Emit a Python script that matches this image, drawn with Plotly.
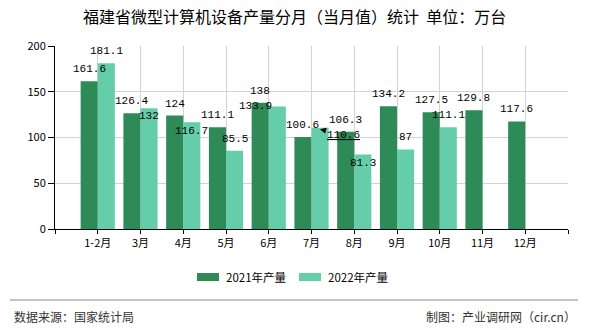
import plotly.graph_objects as go

# ---------------- data ----------------
categories = ['1-2月', '3月', '4月', '5月', '6月', '7月', '8月', '9月', '10月', '11月', '12月']
values_2021 = [161.6, 126.4, 124, 111.1, 138, 100.6, 106.3, 134.2, 127.5, 129.8, 117.6]
values_2022 = [181.1, 132, 116.7, 85.5, 133.9, 110.6, 81.3, 87, 111.1, None, None]
series_names = ['2021年产量', '2022年产量']
y_ticks = [0, 50, 100, 150, 200]

title_text = '福建省微型计算机设备产量分月（当月值）统计  单位：万台'
source_text = '数据来源：国家统计局'
credit_text = '制图：产业调研网（cir.cn）'

# ---------------- style ----------------
W, H = 590, 330
L, R, T, B = 55, 22, 46, 101
PW, PH = W - L - R, H - T - B
COLORS = ['#2E8B57', '#66CDAA']
CJK = 'Noto Sans CJK SC, sans-serif'
MONO = 'Liberation Mono, DejaVu Sans Mono, monospace'


def px(x):
    return (x - L) / PW


def py(y):
    return (H - B - y) / PH


xs = list(range(len(categories)))

fig = go.Figure()
for name, vals, col in zip(series_names, [values_2021, values_2022], COLORS):
    fig.add_trace(go.Bar(x=xs, y=vals, name=name, marker=dict(color=col, line=dict(width=0)),
                         showlegend=False, hoverinfo='skip'))

annotations = []
# data labels (default 12 px above bar top); special label offsets for overlapping ones
special = {
    (1, 1): dict(yshift=-8),
    (1, 2): dict(yshift=-9),
    (1, 4): dict(yshift=0, xshift=-22),
    (1, 6): dict(yshift=-8),
}
for si, vals in enumerate([values_2021, values_2022]):
    off = -0.2 if si == 0 else 0.2
    for i, v in enumerate(vals):
        if v is None:
            continue
        label = ('%g' % v)
        if (si, i) == (1, 5):
            annotations.append(dict(
                x=i + off, y=v - 1.5, xref='x', yref='y', text='<u>' + label + '</u>',
                showarrow=True, arrowhead=2, arrowsize=1, arrowwidth=1.2, arrowcolor='#000',
                ax=23, ay=6, font=dict(family=MONO, size=11, color='#000')))
            continue
        s = special.get((si, i), {})
        annotations.append(dict(
            x=i + off, y=v, xref='x', yref='y', text=label, showarrow=False,
            yanchor='middle', xanchor='center', yshift=s.get('yshift', 12), xshift=s.get('xshift', 0),
            font=dict(family=MONO, size=11, color='#000')))

# title
annotations.append(dict(x=px(294), y=py(16.5), xref='paper', yref='paper', text=title_text,
                        showarrow=False, xanchor='center', yanchor='middle',
                        font=dict(family=CJK, size=16, color='#000')))
# custom legend
shapes = []
leg = [(197, 224), (299, 326)]
for (rx, tx), name, col in zip(leg, series_names, COLORS):
    shapes.append(dict(type='rect', xref='paper', yref='paper', x0=px(rx), x1=px(rx + 22),
                       y0=py(273), y1=py(281), fillcolor=col, line=dict(width=0)))
    annotations.append(dict(x=px(tx), y=py(277), xref='paper', yref='paper', text=name,
                            showarrow=False, xanchor='left', yanchor='middle',
                            font=dict(family=CJK, size=11.5, color='#000')))
# footer
shapes.append(dict(type='line', xref='paper', yref='paper', x0=px(10), x1=px(578),
                   y0=py(300), y1=py(300), line=dict(color='#888888', width=1.2)))
annotations.append(dict(x=px(12), y=py(316), xref='paper', yref='paper', text=source_text,
                        showarrow=False, xanchor='left', yanchor='middle',
                        font=dict(family=CJK, size=12, color='#333')))
annotations.append(dict(x=px(578), y=py(316), xref='paper', yref='paper', text=credit_text,
                        showarrow=False, xanchor='right', yanchor='middle',
                        font=dict(family=CJK, size=12, color='#333')))

fig.update_layout(
    width=W, height=H, margin=dict(l=L, r=R, t=T, b=B, autoexpand=False),
    paper_bgcolor='white', plot_bgcolor='white',
    barmode='group', bargap=0.2, bargroupgap=0,
    showlegend=False, annotations=annotations, shapes=shapes,
    xaxis=dict(range=[-1, len(categories)], tickmode='array',
               tickvals=[-1] + xs + [len(categories)], ticktext=[''] + categories + [''],
               showgrid=True, gridcolor='#d3d3d3', gridwidth=1,
               showline=True, linecolor='#000', linewidth=1, zeroline=False,
               ticks='outside', ticklen=4, tickcolor='#000',
               tickfont=dict(family=CJK, size=11, color='#000')),
    yaxis=dict(range=[0, 200], tickmode='array', tickvals=y_ticks,
               showgrid=True, gridcolor='#d3d3d3', gridwidth=1,
               showline=True, linecolor='#000', linewidth=1, zeroline=False,
               ticks='outside', ticklen=6, tickcolor='#000',
               tickfont=dict(family=CJK, size=11, color='#000')),
)

fig.write_html('out.html')
